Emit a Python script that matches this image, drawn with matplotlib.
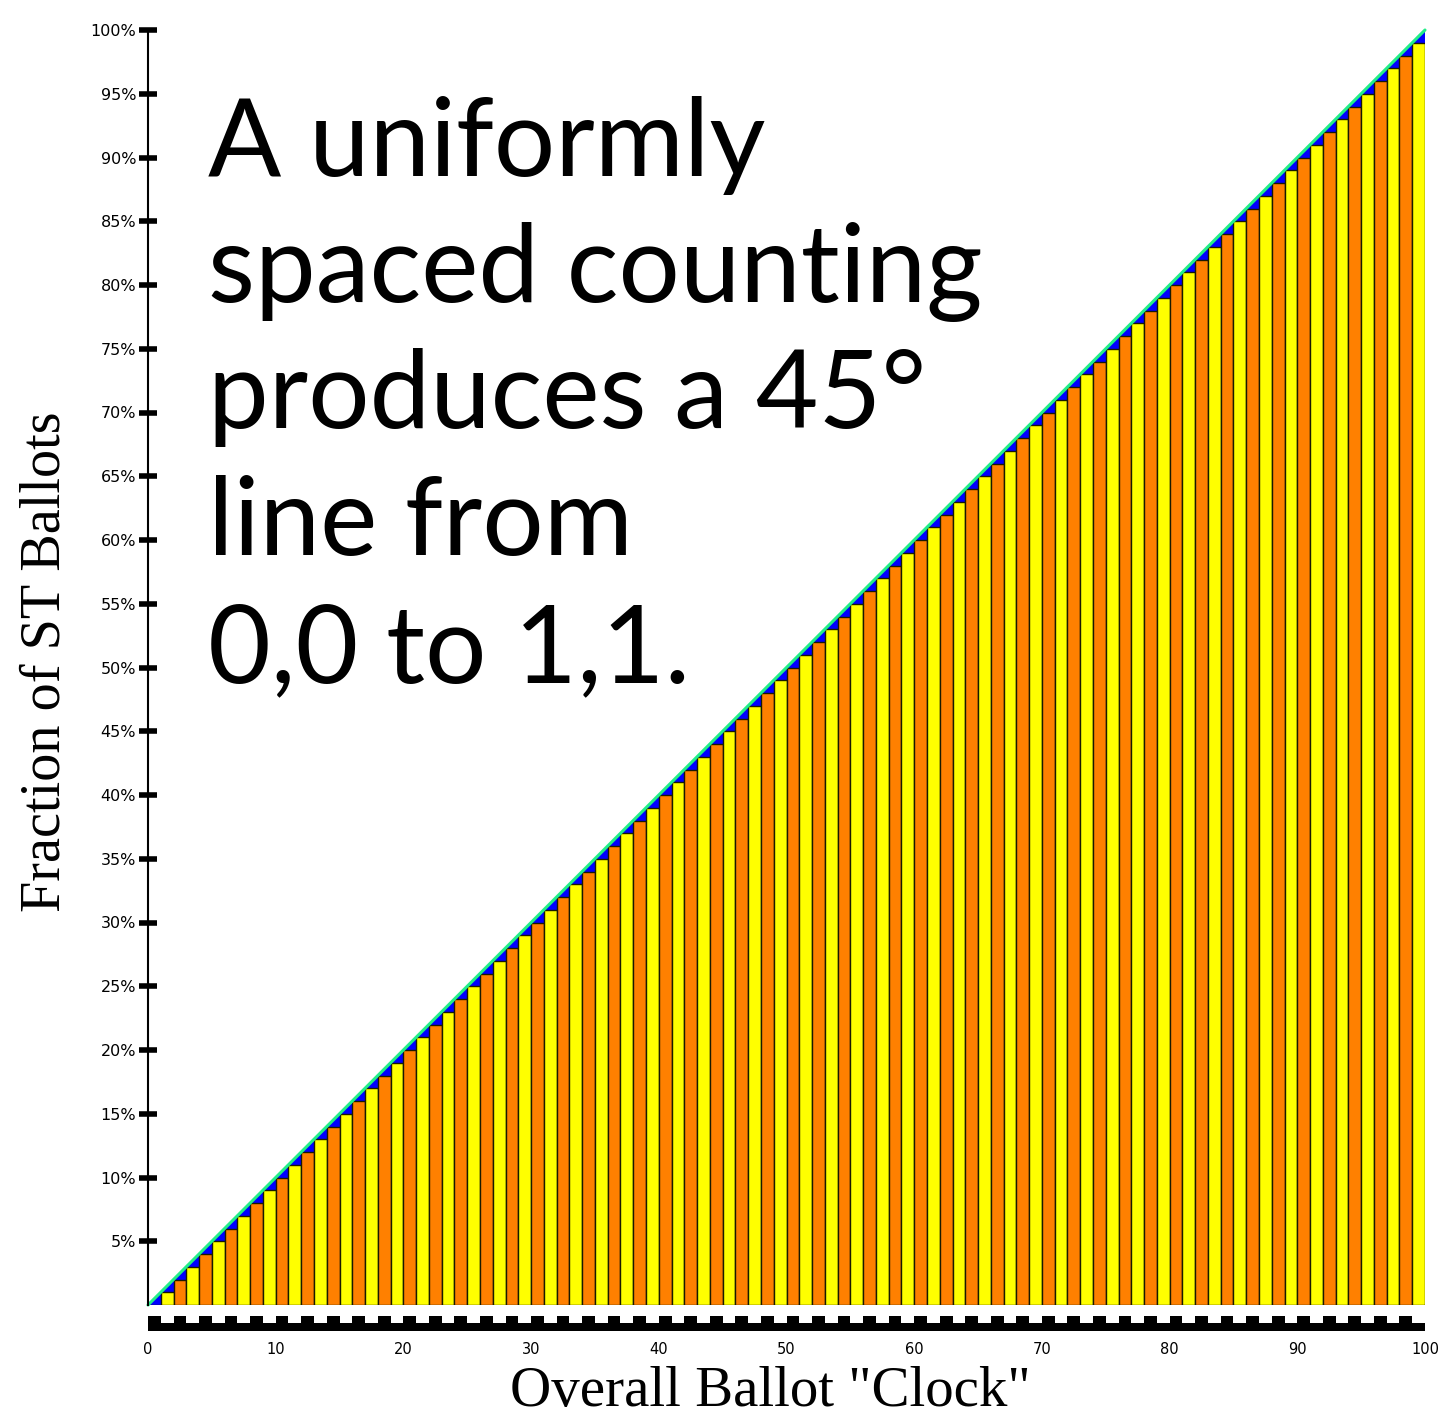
import numpy as np
import matplotlib
matplotlib.use("Agg")
import matplotlib.pyplot as plt
from matplotlib.patches import Rectangle, Polygon

# ---- data ----
clock_slots = [0, 1, 2, 3, 4, 5, 6, 7, 8, 9, 10, 11, 12, 13, 14, 15, 16, 17, 18, 19,
               20, 21, 22, 23, 24, 25, 26, 27, 28, 29, 30, 31, 32, 33, 34, 35, 36, 37, 38, 39,
               40, 41, 42, 43, 44, 45, 46, 47, 48, 49, 50, 51, 52, 53, 54, 55, 56, 57, 58, 59,
               60, 61, 62, 63, 64, 65, 66, 67, 68, 69, 70, 71, 72, 73, 74, 75, 76, 77, 78, 79,
               80, 81, 82, 83, 84, 85, 86, 87, 88, 89, 90, 91, 92, 93, 94, 95, 96, 97, 98, 99]
st_counted = [0, 1, 2, 3, 4, 5, 6, 7, 8, 9, 10, 11, 12, 13, 14, 15, 16, 17, 18, 19,
              20, 21, 22, 23, 24, 25, 26, 27, 28, 29, 30, 31, 32, 33, 34, 35, 36, 37, 38, 39,
              40, 41, 42, 43, 44, 45, 46, 47, 48, 49, 50, 51, 52, 53, 54, 55, 56, 57, 58, 59,
              60, 61, 62, 63, 64, 65, 66, 67, 68, 69, 70, 71, 72, 73, 74, 75, 76, 77, 78, 79,
              80, 81, 82, 83, 84, 85, 86, 87, 88, 89, 90, 91, 92, 93, 94, 95, 96, 97, 98, 99]
diag_x = [0, 100]
diag_y = [0, 100]
x_ticks = [0, 10, 20, 30, 40, 50, 60, 70, 80, 90, 100]
y_ticks = [5, 10, 15, 20, 25, 30, 35, 40, 45, 50, 55, 60, 65, 70, 75, 80, 85, 90, 95, 100]
y_ticklabels = ["5%", "10%", "15%", "20%", "25%", "30%", "35%", "40%", "45%", "50%",
                "55%", "60%", "65%", "70%", "75%", "80%", "85%", "90%", "95%", "100%"]
text_lines = ["A uniformly", "spaced counting", "produces a 45°", "line from", "0,0 to 1,1."]

# ---- figure ----
W, H = 1452, 1417
fig = plt.figure(figsize=(W / 100, H / 100), dpi=100)
ax = fig.add_axes([148 / W, 1 - 1305 / H, 1277 / W, 1275 / H])

ORANGE = "#ff8000"
YELLOW = "#ffff00"
BLUE = "#0000ff"
GREEN = "#22ee88"

colors = [ORANGE if i % 2 == 0 else YELLOW for i in range(len(clock_slots))]

# blue triangles between bar tops and diagonal
for x0, h in zip(clock_slots, st_counted):
    x1 = x0 + 1
    d1 = float(np.interp(x1, diag_x, diag_y))
    ax.add_patch(Polygon([[x0, h], [x1, h], [x1, d1]], closed=True,
                         facecolor=BLUE, edgecolor="none", zorder=1))

ax.bar(clock_slots, st_counted, width=1.0, align="edge", color=colors,
       edgecolor="#1a1a00", linewidth=1.0, zorder=2)

ax.plot(diag_x, diag_y, color=GREEN, linewidth=2.2, zorder=4, clip_on=False,
        solid_capstyle="round")

# ruler strip beneath the axis
ax.add_patch(Rectangle((0, -2.05), 100, 0.62, facecolor="black", edgecolor="none",
                       clip_on=False, zorder=3))
for k in range(50):
    ax.add_patch(Rectangle((2 * k, -1.6), 1.0, 0.7, facecolor="black", edgecolor="none",
                           clip_on=False, zorder=3))

ax.set_xlim(0, 100)
ax.set_ylim(0, 100)
for s in ["top", "right", "bottom"]:
    ax.spines[s].set_visible(False)
ax.spines["left"].set_linewidth(1.5)
ax.spines["left"].set_zorder(5)

ax.set_xticks(x_ticks)
ax.set_xticklabels([str(v) for v in x_ticks])
ax.tick_params(axis="x", length=0, pad=27, labelsize=10.5)
ax.set_yticks(y_ticks)
ax.set_yticklabels(y_ticklabels)
ax.tick_params(axis="y", direction="inout", length=13, width=4, pad=2, labelsize=11.5)

# axis titles
fig.text(46 / W, 1 - 662 / H, "Fraction of ST Ballots", rotation=90, ha="center", va="center",
         fontsize=40.5, family="Liberation Serif")
fig.text(770 / W, 1 - 1406 / H, 'Overall Ballot "Clock"', ha="center", va="baseline",
         fontsize=41, family="Liberation Serif")

# big annotation
baselines = [176, 302, 428, 555, 682]
for line, b in zip(text_lines, baselines):
    fig.text(208 / W, 1 - b / H, line, ha="left", va="baseline", fontsize=78,
             family="Lato", color="black")

fig.savefig("out.png", dpi=100)
